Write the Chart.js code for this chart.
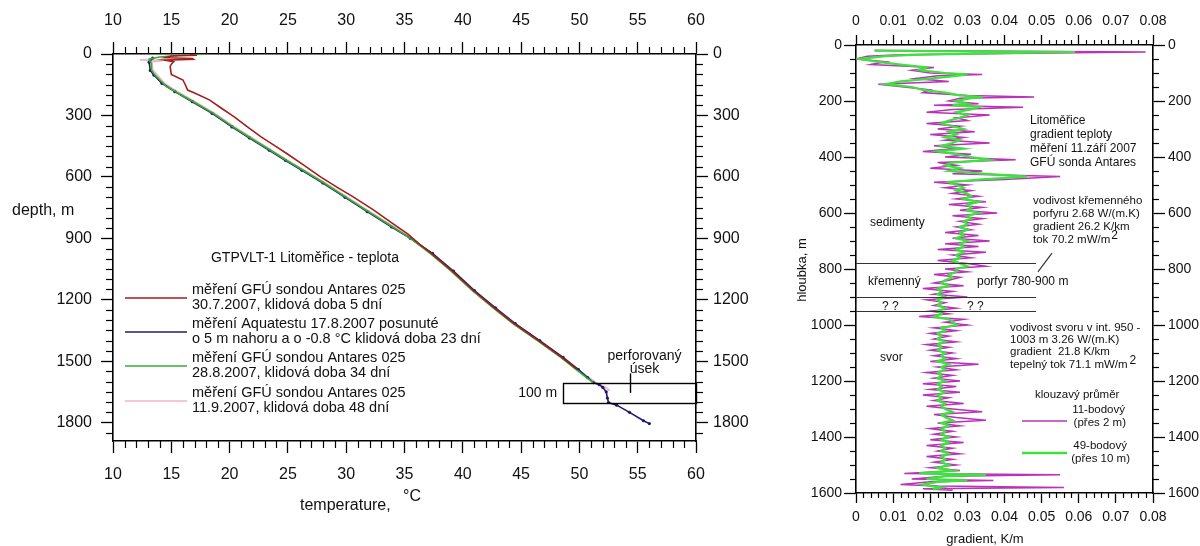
<!DOCTYPE html>
<html><head><meta charset="utf-8">
<script src="https://cdn.jsdelivr.net/npm/chart.js@4.4.0/dist/chart.umd.min.js"></script>
<style>
html,body{margin:0;padding:0;background:#fff;}
#wrap{position:relative;width:1200px;height:546px;overflow:hidden;background:#fff;}
#c1{position:absolute;left:0;top:0;}
#c2{position:absolute;left:760px;top:0;}
</style></head><body>
<div id="wrap"><canvas id="c1" width="760" height="546"></canvas><canvas id="c2" width="440" height="546"></canvas></div>
<script>
// ---------- LEFT PANEL DATA (depth m, temperature °C) ----------
const redDepth = [3,6,10,18,22,26,30,38,50,62,100,127,150,176,190,225,265,307,355,405,445,486,540,600,650,698,760,828,880,930,974,1060,1155,1240,1317,1400,1482,1540];
const redTemp  = [16.6,17.2,15.0,14.5,16.8,16.9,14.4,15.2,15.0,14.9,15.0,16.0,16.2,16.4,17.0,18.3,19.3,20.4,21.5,22.7,23.8,24.9,26.3,27.8,29.2,30.6,32.3,34.0,35.3,36.3,37.3,39.1,40.9,42.7,44.4,46.5,48.5,49.8];

const aquaDepth = [20,40,80,103,143,184,233,290,356,410,470,520,568,630,700,770,845,900,974,1060,1155,1240,1317,1400,1482,1540,1580,1605,1615,1628,1650,1680,1702,1715,1750,1791,1805];
const aquaTemp  = [13.4,13.1,13.2,13.5,14.2,15.3,16.8,18.5,20.2,21.7,23.4,24.8,26.2,28.0,29.9,31.8,33.9,35.5,37.4,39.2,41.0,42.8,44.5,46.6,48.6,49.9,50.7,51.2,51.7,52.0,52.3,52.4,52.5,53.2,54.3,55.5,56.0];

const gfu28Depth = [1,4,8,15,25,37,45,78,103,143,160,184,192,233,290,356,410,470,520,568,630,700,770,845,900,974,1060,1155,1240,1317,1400,1482,1540,1580,1605];
const gfu28Temp  = [17.7,16.0,15.4,14.0,13.1,13.2,13.3,13.3,13.6,14.3,14.6,15.4,15.6,16.9,18.6,20.3,21.8,23.5,24.9,26.3,28.1,30.0,31.9,34.0,35.5,37.2,39.0,40.8,42.6,44.3,46.4,48.4,49.7,50.6,51.2];

const gfu11Depth = [28,32,38,78,143,184,233,290,356,410,470,520,568,630,700,770,845,900,974,1060,1155,1240,1317,1400,1482,1540,1580,1605,1630,1645];
const gfu11Temp  = [12.3,14.2,13.3,13.4,14.4,15.5,17.0,18.7,20.4,21.9,23.6,25.0,26.4,28.2,30.1,32.0,34.1,35.6,37.3,39.1,40.9,42.7,44.4,46.5,48.5,49.8,50.8,51.4,52.3,52.6];

const legendLabels = [
  ["měření GFÚ sondou Antares 025","30.7.2007, klidová doba 5 dní"],
  ["měření Aquatestu 17.8.2007 posunuté","o 5 m nahoru a o -0.8 °C klidová doba 23 dní"],
  ["měření GFÚ sondou Antares 025","28.8.2007, klidová doba 34 dní"],
  ["měření GFÚ sondou Antares 025","11.9.2007, klidová doba 48 dní"]
];

// ---------- RIGHT PANEL DATA (depth m, gradient K/m) ----------
const gradDepth = [20,25,30,35,40,50,60,70,80,90,
100,105,110,120,130,140,150,160,170,180,
186,190,200,210,215,222,230,240,250,260,
270,280,290,300,310,320,330,340,350,360,
370,380,390,400,410,420,430,440,450,460,
470,480,490,500,510,520,530,540,550,560,
570,580,590,600,610,620,630,640,650,660,
670,680,690,700,710,720,730,740,750,760,
770,780,790,800,810,820,830,840,850,860,
870,880,890,900,910,920,930,940,950,960,
970,980,990,1000,1010,1020,1030,1040,1050,1060,
1070,1080,1090,1100,1110,1120,1130,1140,1150,1160,
1170,1180,1190,1200,1210,1220,1230,1240,1250,1260,
1270,1280,1290,1300,1310,1320,1330,1340,1350,1360,
1370,1380,1390,1400,1410,1420,1430,1440,1450,1460,
1470,1480,1490,1500,1510,1520,1530,1535,1540,1550,
1555,1560,1570,1575,1580,1585,1590];
const grad11 = [0.005,0.078,0.040,0.012,0.003,0.000,0.008,0.004,0.021,0.015,
0.020,0.034,0.022,0.016,0.025,0.006,0.013,0.020,0.018,0.030,
0.048,0.028,0.025,0.033,0.021,0.045,0.026,0.019,0.036,0.027,
0.030,0.019,0.028,0.022,0.032,0.020,0.029,0.024,0.036,0.021,
0.027,0.018,0.031,0.024,0.043,0.022,0.027,0.020,0.034,0.026,
0.055,0.040,0.021,0.030,0.024,0.031,0.026,0.033,0.027,0.035,
0.025,0.034,0.028,0.038,0.026,0.034,0.028,0.033,0.027,0.031,
0.024,0.033,0.026,0.036,0.024,0.033,0.022,0.035,0.026,0.031,
0.022,0.030,0.035,0.024,0.030,0.021,0.028,0.025,0.021,0.029,
0.018,0.026,0.021,0.030,0.019,0.024,0.021,0.027,0.020,0.025,
0.017,0.029,0.024,0.030,0.021,0.027,0.020,0.025,0.021,0.027,
0.019,0.025,0.020,0.026,0.021,0.027,0.020,0.033,0.022,0.027,
0.019,0.026,0.021,0.028,0.018,0.027,0.020,0.028,0.018,0.025,
0.021,0.029,0.019,0.026,0.034,0.021,0.027,0.035,0.022,0.028,
0.020,0.026,0.021,0.027,0.020,0.029,0.019,0.026,0.022,0.028,
0.019,0.026,0.021,0.027,0.020,0.028,0.013,0.055,0.024,0.015,
0.037,0.020,0.012,0.022,0.056,0.018,0.026];
const grad49 = [0.005,0.059,0.035,0.015,0.008,0.001,0.006,0.012,0.019,0.017,
0.024,0.030,0.027,0.020,0.012,0.008,0.015,0.018,0.024,0.028,
0.034,0.031,0.027,0.030,0.026,0.033,0.031,0.027,0.030,0.028,
0.025,0.023,0.026,0.029,0.025,0.027,0.024,0.028,0.026,0.023,
0.029,0.022,0.027,0.031,0.036,0.026,0.024,0.028,0.025,0.035,
0.046,0.034,0.025,0.027,0.029,0.027,0.030,0.031,0.029,0.033,
0.030,0.031,0.030,0.033,0.030,0.031,0.029,0.030,0.028,0.030,
0.028,0.029,0.027,0.030,0.028,0.029,0.027,0.029,0.027,0.028,
0.026,0.028,0.030,0.027,0.027,0.025,0.026,0.024,0.023,0.025,
0.022,0.023,0.022,0.024,0.022,0.023,0.022,0.024,0.022,0.023,
0.021,0.025,0.026,0.027,0.023,0.024,0.022,0.023,0.022,0.024,
0.022,0.023,0.022,0.024,0.023,0.024,0.022,0.025,0.023,0.024,
0.022,0.023,0.022,0.024,0.022,0.023,0.022,0.024,0.022,0.023,
0.022,0.024,0.023,0.024,0.026,0.023,0.024,0.026,0.023,0.025,
0.023,0.024,0.023,0.025,0.023,0.025,0.023,0.024,0.023,0.025,
0.023,0.024,0.023,0.025,0.022,0.026,0.017,0.035,0.024,0.019,
0.030,0.022,0.018,0.020,0.023,0.021,0.021];

const rockBoundaries = [780, 900, 950];

// ---------- helpers ----------
const FONT = '"Liberation Sans", Arial, sans-serif';
const C_RED = '#a31d1d', C_NAVY = '#1c1c6b', C_GREEN = '#33b033', C_PINK = '#f2b6c6';
const C_MAG = '#b932b9', C_LGREEN = '#3fe03f';

function isMajor(v, every){ const r = v/every; return Math.abs(r - Math.round(r)) < 1e-6; }
function fmtNum(v, dec){ return dec ? String(parseFloat(v.toFixed(dec))) : String(Math.round(v)); }
function pts(xs, ys){ return ys.map((y,i)=>({x:xs[i], y:y})); }

function makeAxis(o){
  return {
    type:'linear', axis:o.axis, position:o.pos, min:o.min, max:o.max, reverse:!!o.reverse,
    afterFit: s => { if (o.pos==='top'||o.pos==='bottom') s.height = o.size; else s.width = o.size; },
    grid:{display:true, drawOnChartArea:false, drawTicks:true, tickLength:o.majorLen, tickWidth:1.3,
      tickColor: c => (c.tick && isMajor(c.tick.value, o.every)) ? '#000' : 'rgba(0,0,0,0)'},
    border:{display:true, color:'#000', width:1.6},
    ticks:{stepSize:o.step, autoSkip:false, maxRotation:0, minRotation:0, includeBounds:false,
      padding:o.pad, color:'#111', font:{family:FONT, size:o.fs},
      callback: v => isMajor(v, o.every) ? fmtNum(v, o.dec) : ''}
  };
}
function makeMinor(cfg){
  return { id:'minorTicks', afterDraw(chart){
    const ctx = chart.ctx; ctx.save(); ctx.strokeStyle = '#000'; ctx.lineWidth = 1.2;
    for (const id in cfg){
      const s = chart.scales[id], c = cfg[id];
      for (const t of s.ticks){
        if (isMajor(t.value, c.every)) continue;
        const p = Math.round(s.getPixelForValue(t.value)) + 0.5;
        ctx.beginPath();
        if (s.position==='top'){ ctx.moveTo(p, s.bottom); ctx.lineTo(p, s.bottom - c.len); }
        else if (s.position==='bottom'){ ctx.moveTo(p, s.top); ctx.lineTo(p, s.top + c.len); }
        else if (s.position==='left'){ ctx.moveTo(s.right, p); ctx.lineTo(s.right - c.len, p); }
        else { ctx.moveTo(s.left, p); ctx.lineTo(s.left + c.len, p); }
        ctx.stroke();
      }
    }
    ctx.restore();
  }};
}
function txt(ctx, s, x, y, size, align){
  ctx.font = size + 'px ' + FONT; ctx.fillStyle = '#111';
  ctx.textAlign = align || 'left'; ctx.textBaseline = 'middle'; ctx.fillText(s, x, y);
}

// ---------- LEFT CHART ----------
const leftAnno = { id:'leftAnno', afterDraw(chart){
  const ctx = chart.ctx, sx = chart.scales.x, sy = chart.scales.y;
  ctx.save();
  const bx0 = sx.getPixelForValue(48.6), bx1 = sx.getPixelForValue(60);
  const by0 = sy.getPixelForValue(1605), by1 = sy.getPixelForValue(1705);
  ctx.strokeStyle = '#000'; ctx.lineWidth = 1.4;
  ctx.strokeRect(Math.round(bx0)+0.5, Math.round(by0)+0.5, Math.round(bx1-bx0), Math.round(by1-by0));
  const tx = Math.round(sx.getPixelForValue(54.3)) + 0.5;
  ctx.beginPath(); ctx.moveTo(tx, sy.getPixelForValue(1560)); ctx.lineTo(tx, sy.getPixelForValue(1655)); ctx.stroke();
  txt(ctx, '100 m', bx0 - 6, (by0+by1)/2, 14, 'right');
  txt(ctx, 'perforovaný', tx + 14, sy.getPixelForValue(1475), 14, 'center');
  txt(ctx, 'úsek', tx + 14, sy.getPixelForValue(1540), 14, 'center');
  txt(ctx, 'GTPVLT-1 Litoměřice - teplota', 305, 258, 14, 'center');
  const cols = [C_RED, C_NAVY, C_GREEN, C_PINK];
  const lineY = [298, 332, 366, 401];
  for (let i=0;i<4;i++){
    ctx.strokeStyle = cols[i]; ctx.lineWidth = 1.6;
    ctx.beginPath(); ctx.moveTo(125, lineY[i]); ctx.lineTo(187, lineY[i]); ctx.stroke();
    txt(ctx, legendLabels[i][0], 192, lineY[i]-8, 14.5);
    txt(ctx, legendLabels[i][1], 192, lineY[i]+7, 14.5);
  }
  txt(ctx, 'depth, m', 12, 211, 16);
  txt(ctx, 'temperature,', 300, 506, 16);
  txt(ctx, '°C', 403, 497, 16);
  ctx.restore();
}};

new Chart(document.getElementById('c1'), {
  type:'scatter',
  data:{ datasets:[
    {label:'30.7.2007', data:pts(redTemp, redDepth), showLine:true, borderColor:C_RED, borderWidth:1.6, pointRadius:0, order:0},
    {label:'28.8.2007', data:pts(gfu28Temp, gfu28Depth), showLine:true, borderColor:C_GREEN, borderWidth:1.6, pointRadius:0, order:1},
    {label:'Aquatest 17.8.2007', data:pts(aquaTemp, aquaDepth), showLine:true, borderColor:C_NAVY, borderWidth:1.6, pointRadius:1.6, pointBackgroundColor:C_NAVY, pointBorderWidth:0, order:2},
    {label:'11.9.2007', data:pts(gfu11Temp, gfu11Depth), showLine:true, borderColor:C_PINK, borderWidth:2, pointRadius:0, order:3}
  ]},
  options:{
    responsive:false, animation:false, devicePixelRatio:1,
    layout:{padding:0},
    plugins:{legend:{display:false}, tooltip:{enabled:false}},
    scales:{
      x: makeAxis({axis:'x', pos:'bottom', min:10, max:60, step:1, every:5, size:105, majorLen:12, pad:12, fs:16}),
      x2: makeAxis({axis:'x', pos:'top', min:10, max:60, step:1, every:5, size:54, majorLen:12, pad:12, fs:16}),
      y: makeAxis({axis:'y', pos:'left', min:0, max:1890, step:50, every:300, size:113, majorLen:12, pad:9, fs:16, reverse:true}),
      y2: makeAxis({axis:'y', pos:'right', min:0, max:1890, step:50, every:300, size:64, majorLen:12, pad:5, fs:16, reverse:true})
    }
  },
  plugins:[makeMinor({x:{len:7,every:5}, x2:{len:7,every:5}, y:{len:7,every:300}, y2:{len:7,every:300}}), leftAnno]
});

// ---------- RIGHT CHART ----------
const rightAnno = { id:'rightAnno', afterDraw(chart){
  const ctx = chart.ctx, sx = chart.scales.x, sy = chart.scales.y;
  ctx.save();
  ctx.strokeStyle = '#333'; ctx.lineWidth = 1.2;
  const xl = sx.getPixelForValue(0), xr = sx.getPixelForValue(0.0485);
  for (const d of rockBoundaries){
    const y = Math.round(sy.getPixelForValue(d)) + 0.5;
    ctx.beginPath(); ctx.moveTo(xl, y); ctx.lineTo(xr, y); ctx.stroke();
  }
  ctx.beginPath(); ctx.moveTo(sx.getPixelForValue(0.049), sy.getPixelForValue(810));
  ctx.lineTo(sx.getPixelForValue(0.0528), sy.getPixelForValue(743)); ctx.stroke();
  const F = 12;
  ['Litoměřice','gradient teploty','měření 11.září 2007','GFÚ sonda Antares'].forEach((s,i)=>txt(ctx, s, 270, 121 + i*14, F));
  ['vodivost křemenného','porfyru 2.68 W/(m.K)','gradient 26.2 K/km'].forEach((s,i)=>txt(ctx, s, 273, 201 + i*13, F-0.5));
  txt(ctx, 'tok 70.2 mW/m', 273, 240, F-0.5);
  ctx.font = (F-0.5) + 'px ' + FONT; let w = ctx.measureText('tok 70.2 mW/m').width;
  txt(ctx, '2', 274 + w, 236, F);
  txt(ctx, 'sedimenty', 110, 223, F);
  txt(ctx, 'křemenný', 108, 282, F);
  txt(ctx, 'porfyr 780-900 m', 217, 282, F);
  txt(ctx, '? ?', 122, 307, F);
  txt(ctx, '? ?', 207, 307, F);
  ['vodivost svoru v int. 950 -','1003 m 3.26 W/(m.K)','gradient  21.8 K/km'].forEach((s,i)=>txt(ctx, s, 250, 328 + i*12, F-0.5));
  txt(ctx, 'tepelný tok 71.1 mW/m', 250, 365, F-0.5);
  ctx.font = (F-0.5) + 'px ' + FONT; w = ctx.measureText('tepelný tok 71.1 mW/m').width;
  txt(ctx, '2', 252 + w, 361, F);
  txt(ctx, 'svor', 120, 358, F);
  txt(ctx, 'klouzavý průměr', 275, 395, F-0.5);
  txt(ctx, '11-bodový', 365, 410, F-0.5, 'right');
  txt(ctx, '(přes 2 m)', 366, 423, F-0.5, 'right');
  txt(ctx, '49-bodový', 367, 446, F-0.5, 'right');
  txt(ctx, '(přes 10 m)', 370, 459, F-0.5, 'right');
  ctx.lineWidth = 1.6; ctx.strokeStyle = C_MAG;
  ctx.beginPath(); ctx.moveTo(262, 421); ctx.lineTo(307, 421); ctx.stroke();
  ctx.lineWidth = 2.4; ctx.strokeStyle = C_LGREEN;
  ctx.beginPath(); ctx.moveTo(262, 453); ctx.lineTo(307, 453); ctx.stroke();
  txt(ctx, 'gradient, K/m', 225, 539, 13, 'center');
  ctx.save(); ctx.translate(42, 270); ctx.rotate(-Math.PI/2);
  txt(ctx, 'hloubka, m', 0, 0, 13, 'center'); ctx.restore();
  ctx.restore();
}};

new Chart(document.getElementById('c2'), {
  type:'scatter',
  data:{ datasets:[
    {label:'49-bodový', data:pts(grad49, gradDepth), showLine:true, borderColor:C_LGREEN, borderWidth:2.2, pointRadius:0, order:0},
    {label:'11-bodový', data:pts(grad11, gradDepth), showLine:true, borderColor:C_MAG, borderWidth:1.5, pointRadius:0, order:1}
  ]},
  options:{
    responsive:false, animation:false, devicePixelRatio:1,
    layout:{padding:0},
    plugins:{legend:{display:false}, tooltip:{enabled:false}},
    scales:{
      x: makeAxis({axis:'x', pos:'bottom', min:0, max:0.08, step:0.002, every:0.01, dec:2, size:53, majorLen:10, pad:6, fs:14}),
      x2: makeAxis({axis:'x', pos:'top', min:0, max:0.08, step:0.002, every:0.01, dec:2, size:45, majorLen:10, pad:5, fs:14}),
      y: makeAxis({axis:'y', pos:'left', min:0, max:1600, step:50, every:200, size:96, majorLen:12, pad:2, fs:14, reverse:true}),
      y2: makeAxis({axis:'y', pos:'right', min:0, max:1600, step:50, every:200, size:47, majorLen:12, pad:3, fs:14, reverse:true})
    }
  },
  plugins:[makeMinor({x:{len:5,every:0.01}, x2:{len:5,every:0.01}, y:{len:6,every:200}, y2:{len:6,every:200}}), rightAnno]
});
</script>
</body></html>
